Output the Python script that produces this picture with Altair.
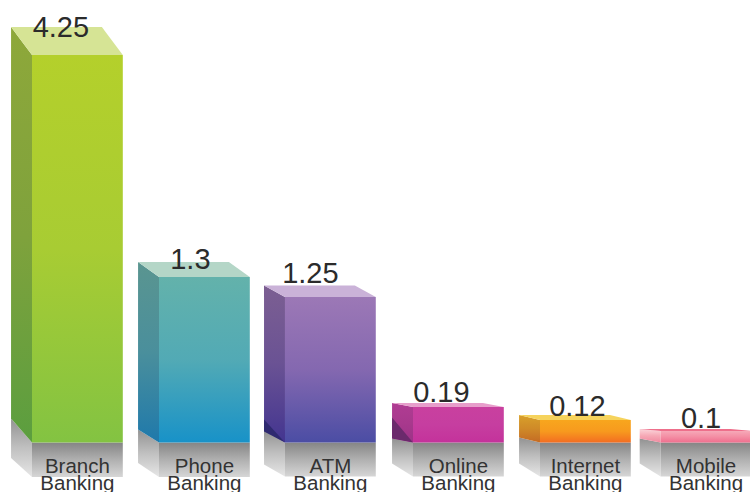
import altair as alt
import numpy as np
import pandas as pd

# Chart values
channels = ["Branch", "Phone", "ATM", "Online", "Internet", "Mobile"]
second_line = ["Banking"] * 6
costs = [4.25, 1.3, 1.25, 0.19, 0.12, 0.1]
cost_labels = ["4.25", "1.3", "1.25", "0.19", "0.12", "0.1"]

# Bars sit on a slot axis; the last one is squeezed against the right edge
slots = [0, 1, 1.992, 3, 4, 4.95]
BAR_W = 0.715
DEPTH = 0.165

# The value axis is piecewise: each stated value has its own stop
VALUE_STOPS = [-1.0, 0.0, 0.1, 0.12, 0.19, 1.25, 1.3, 4.25, 4.6]
PIXEL_STOPS = [492, 442.5, 431, 420, 407, 297, 277, 55, 0]

# Extruded shape of each bar, in screen pixels
top_rise = [28, 15, 11.5, 4, 5, 2]
side_rise = [24, 13, 12, 4, 5, 4]
mirror_front = [34.5, 34.5, 34, 34, 34, 34]
mirror_side = [19, 14, 12, 13, 13, 13]
label_lift = [18, 8, 14, 5, 4, 3]
label_shift = [-16.5, -14, -20, -17, -8, -5]
line1_y, line2_y = 473, 490

# Shade wedges low on the left wall: (upper rise, lower rise, colour)
wedges = {2: (23, 11, "#2f2a70"), 3: (25, 4, "#6b2a6c")}

front_colors = [
    ["#b4d02b", "#a8cc33", "#83c342"],
    ["#63b2ab", "#52aab5", "#1892c8"],
    ["#9c78b6", "#8468b0", "#4b4da4"],
    ["#c9409f", "#c63ea0", "#c4329b"],
    ["#f8a61d", "#f79a1e", "#f36d22"],
    ["#f6a9b8", "#f48ea4", "#ef6f8e"],
]
side_colors = [
    ["#8ea83a", "#7fa23c", "#5b9e3f"],
    ["#5a9590", "#4a8f9c", "#1f79ab"],
    ["#7c5f92", "#6a5294", "#433590"],
    ["#b03c93", "#a8398d", "#9c3387"],
    ["#d8a02a", "#cf8a28", "#c46a24"],
    ["#fbd5da", "#f6a9b6", "#f08aa0"],
]
roof_colors = ["#d6e495", "#b4d6c7", "#cab2d8", "#e79ecb", "#f6d35c", "#ee6f8b"]

y_scale = alt.Scale(domain=VALUE_STOPS, range=PIXEL_STOPS, zero=False, nice=False, clamp=False)
x_scale = alt.Scale(domain=[-32 / 127, 718 / 127], range=[0, 750], zero=False, nice=False)
X = alt.X("x:Q", scale=x_scale, axis=None)
Y = alt.Y("y:Q", scale=y_scale, axis=None)


def level(px):
    """Value on the piecewise axis that lands on a given screen row."""
    return float(np.interp(-px, [-p for p in PIXEL_STOPS], VALUE_STOPS))


def fade(colors):
    offsets = np.linspace(0, 1, len(colors))
    return alt.Gradient(
        gradient="linear", x1=0, y1=0, x2=0, y2=1,
        stops=[alt.GradientStop(offset=float(o), color=c) for o, c in zip(offsets, colors)],
    )


def face(rows, fill):
    frame = pd.DataFrame(rows, columns=["x", "y", "y2"])
    return alt.Chart(frame).mark_area(color=fill, orient="vertical").encode(
        x=X, y=Y, y2=alt.Y2("y2:Q")
    )


BASE = PIXEL_STOPS[1]
layers = []
for i, value in enumerate(costs):
    left, right = slots[i], slots[i] + BAR_W
    back = left - DEPTH
    front_top = float(np.interp(-value, [-v for v in VALUE_STOPS[::-1]], PIXEL_STOPS[::-1]))

    # Floor reflection under the bar
    layers.append(face(
        [[back, level(BASE - side_rise[i]), level(BASE + mirror_front[i] - mirror_side[i])],
         [left, level(BASE), level(BASE + mirror_front[i])]],
        fade(["#929292", "#c0c0c0", "#e6e6e6"]),
    ))
    layers.append(face(
        [[left, level(BASE), level(BASE + mirror_front[i])],
         [right, level(BASE), level(BASE + mirror_front[i])]],
        fade(["#858585", "#b0b0b0", "#d6d6d6"]),
    ))

    # Left wall
    layers.append(face(
        [[back, level(front_top - top_rise[i]), level(BASE - side_rise[i])],
         [left, value, 0]],
        fade(side_colors[i]),
    ))
    if i in wedges:
        upper, lower, tone = wedges[i]
        layers.append(face(
            [[back, level(BASE - upper), level(BASE - lower)], [left, 0, 0]],
            tone,
        ))

    # Roof
    rear = level(front_top - top_rise[i])
    layers.append(face(
        [[back, rear, rear], [left, rear, value],
         [right - DEPTH, rear, value], [right, value, value]],
        roof_colors[i],
    ))

    # Front face, drawn straight from the value
    bar = pd.DataFrame({"x": [left], "x2": [right], "y": [value], "y2": [0]})
    layers.append(alt.Chart(bar).mark_bar(color=fade(front_colors[i])).encode(
        x=X, x2="x2:Q", y=Y, y2="y2:Q"
    ))

# Stated values above each bar
value_text = pd.DataFrame({
    "x": [s + BAR_W / 2 + d / 127 for s, d in zip(slots, label_shift)],
    "y": [level(np.interp(-v, [-w for w in VALUE_STOPS[::-1]], PIXEL_STOPS[::-1]) - l)
          for v, l in zip(costs, label_lift)],
    "t": cost_labels,
})
layers.append(alt.Chart(value_text).mark_text(
    font="Liberation Sans", fontSize=29, color="#2b2b2b", align="center", baseline="alphabetic"
).encode(x=X, y=Y, text="t:N"))

# Two-line channel names printed over the reflections
centres = [s + BAR_W / 2 for s in slots]
for words, row in ((channels, line1_y), (second_line, line2_y)):
    names = pd.DataFrame({"x": centres, "y": [level(row)] * 6, "t": words})
    layers.append(alt.Chart(names).mark_text(
        font="Liberation Sans", fontSize=20.5, color="#333333", align="center", baseline="alphabetic"
    ).encode(x=X, y=Y, text="t:N"))

chart = alt.layer(*layers).properties(
    width=750, height=492, padding=0,
    autosize=alt.AutoSizeParams(type="none"),
    background="white",
).configure_view(stroke=None)

chart.save("out.html", embed_options={"renderer": "svg", "actions": False})
